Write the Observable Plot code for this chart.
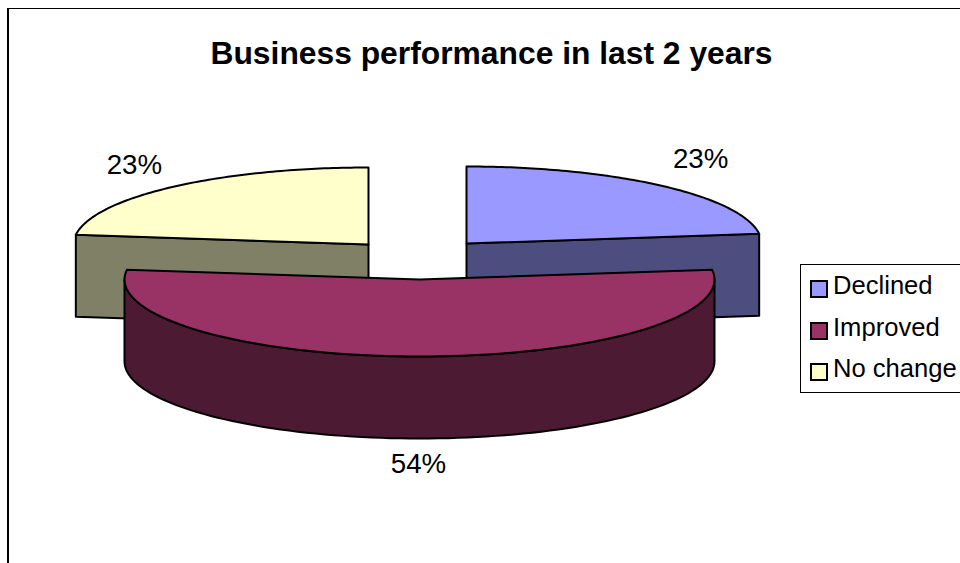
<!DOCTYPE html>
<html>
<head>
<meta charset="utf-8">
<title>Business performance in last 2 years</title>
<script src="https://cdn.jsdelivr.net/npm/d3@7"></script>
<script src="https://cdn.jsdelivr.net/npm/@observablehq/plot@0.6"></script>
<style>
  html, body { margin: 0; padding: 0; background: #fff; }
  #chart {
    position: relative; width: 960px; height: 563px; overflow: hidden;
    font-family: "Liberation Sans", Arial, sans-serif; color: #000;
  }
  #frame {
    position: absolute; left: 7px; top: 8px; width: 970px; height: 600px;
    border-left: 2px solid #000; border-top: 1.5px solid #000;
  }
  #title {
    position: absolute; left: 0; top: 36px; width: 983px; text-align: center;
    font-size: 31.8px; font-weight: bold; line-height: 34px; white-space: nowrap;
  }
  #legend {
    position: absolute; left: 800px; top: 264px; width: 190px; height: 127px;
    border: 1.5px solid #000; background: #fff; font-size: 25.6px;
  }
  .entry { position: absolute; left: 9px; height: 30px; line-height: 30px; white-space: nowrap; }
  .entry i {
    position: absolute; left: 0; top: 10px; width: 14px; height: 14px;
    border: 2px solid #000;
  }
  .entry span { position: absolute; left: 23px; top: 0; }
  #chart svg { position: absolute; left: 0; top: 0; }
</style>
</head>
<body>
<div id="chart">
  <div id="frame"></div>
  <div id="title">Business performance in last 2 years</div>
  <div id="legend"></div>
</div>
<script>
const categories = ["Declined", "Improved", "No change"];
const shares = [23, 54, 23];
const topColors = ["#9999ff", "#993366", "#ffffcc"];
const wallColors = ["#4d4d80", "#4d1a33", "#808066"];

// Exploded-pie layout: where each slice's apex sits, and the tilted disc's size.
const apexes = [[466, 243], [419, 279], [368, 244]];
const rx = 295, ry = 77, depth = 82;
const labelNudge = [[39, -27], [-1, 26], [-39, -22]];

const rad = (d) => (d * Math.PI) / 180;
const rim = ([cx, cy], deg, drop = 0) => [
  cx + rx * Math.sin(rad(deg)),
  cy - ry * Math.cos(rad(deg)) + drop
];
const sweep = (a, b, n = 96) => d3.range(n + 1).map((i) => a + ((b - a) * i) / n);

// Start and end angles of the slices, clockwise from twelve o'clock.
const arcs = d3.pie().sort(null).value((d) => d).startAngle(0).endAngle(2 * Math.PI)(shares)
  .map((a) => [(a.startAngle * 180) / Math.PI, (a.endAngle * 180) / Math.PI]);

const pieces = [];
const addPiece = (id, color, points) => {
  [...points, points[0]].forEach(([x, y]) => pieces.push({ id, color, x, y }));
};
const flatWall = (i, deg) => {
  const c = apexes[i], p = rim(c, deg);
  addPiece(`${categories[i]} wall`, wallColors[i], [c, p, [p[0], p[1] + depth], [c[0], c[1] + depth]]);
};
const topFace = (i) => {
  const c = apexes[i];
  addPiece(`${categories[i]} top`, topColors[i], [c, ...sweep(...arcs[i]).map((d) => rim(c, d))]);
};

// Back slices are painted first, the large front slice goes over them.
flatWall(0, arcs[0][1]);
topFace(0);
flatWall(2, arcs[2][0]);
topFace(2);
const front = apexes[1];
addPiece("Improved wall", wallColors[1], [
  ...sweep(90, 270).map((d) => rim(front, d)),
  ...sweep(270, 90).map((d) => rim(front, d, depth))
]);
topFace(1);

const labels = categories.map((name, i) => {
  const mid = (arcs[i][0] + arcs[i][1]) / 2;
  const [x, y] = rim(apexes[i], mid, name === "Improved" ? depth : 0);
  return { text: `${shares[i]}%`, x: x + labelNudge[i][0], y: y + labelNudge[i][1] };
});

const plot = Plot.plot({
  width: 960,
  height: 563,
  margin: 0,
  style: { background: "transparent", overflow: "visible" },
  x: { domain: [0, 960], range: [0, 960], axis: null },
  y: { domain: [0, 563], range: [0, 563], axis: null },
  color: { type: "identity" },
  marks: [
    Plot.line(pieces, {
      x: "x", y: "y", z: "id", fill: "color",
      stroke: "#000", strokeWidth: 2, strokeLinejoin: "round", curve: "linear"
    }),
    Plot.text(labels, {
      x: "x", y: "y", text: "text", fontSize: 27.7, fill: "#000",
      fontFamily: "Liberation Sans, Arial, sans-serif"
    })
  ]
});
document.getElementById("chart").insertBefore(plot, document.getElementById("title"));

const legend = document.getElementById("legend");
categories.forEach((name, i) => {
  const row = document.createElement("div");
  row.className = "entry";
  row.style.top = `${5 + i * 41.5}px`;
  const swatch = document.createElement("i");
  swatch.style.background = topColors[i];
  const text = document.createElement("span");
  text.textContent = name;
  row.append(swatch, text);
  legend.append(row);
});
</script>
</body>
</html>
